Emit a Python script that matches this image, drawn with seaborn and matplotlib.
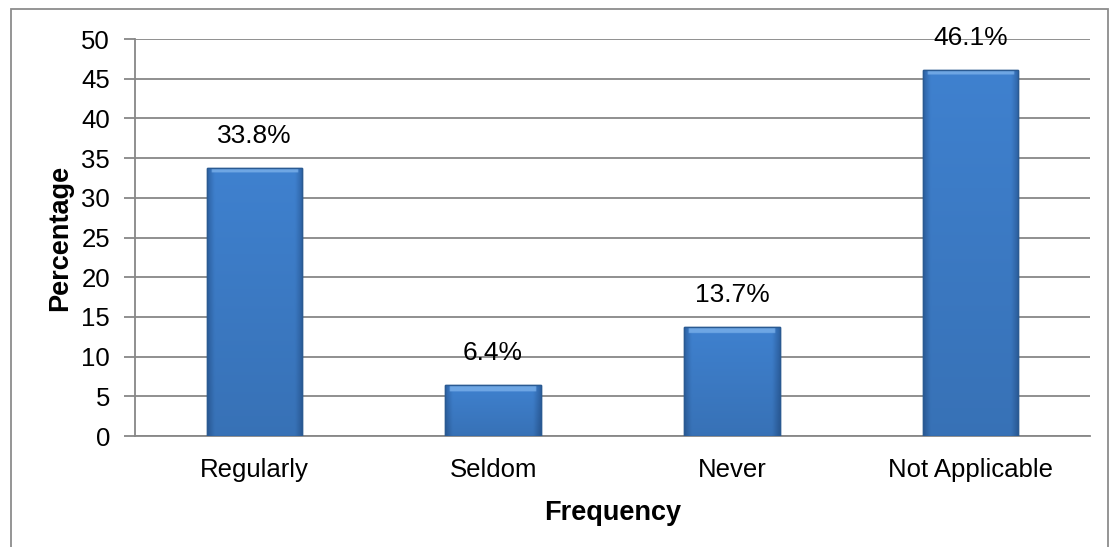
import matplotlib
matplotlib.use("Agg")
import matplotlib.pyplot as plt
import seaborn as sns
import pandas as pd
import numpy as np
from matplotlib.patches import Rectangle
from matplotlib.colors import to_rgb

categories = ["Regularly", "Seldom", "Never", "Not Applicable"]
percentages = [33.8, 6.4, 13.7, 46.1]
y_ticks = [0, 5, 10, 15, 20, 25, 30, 35, 40, 45, 50]

sns.set_theme(style="white")
plt.rcParams["font.family"] = ["Liberation Sans", "DejaVu Sans"]
plt.rcParams["text.color"] = "black"
plt.rcParams["xtick.color"] = "black"
plt.rcParams["ytick.color"] = "black"
plt.rcParams["axes.labelcolor"] = "black"

df = pd.DataFrame({"Frequency": categories, "Percentage": percentages})

fig = plt.figure(figsize=(11.10, 5.47), dpi=100)
ax = fig.add_axes([0.1216, 0.2029, 0.8604, 0.7258])

# outer chart frame
fig.patches.append(Rectangle((0.0095, -0.01), 0.989, 0.994, transform=fig.transFigure,
                             fill=False, edgecolor="#8c8c8c", linewidth=1.3))

sns.barplot(data=df, x="Frequency", y="Percentage", ax=ax, color="#3b7bc8",
            width=0.40, edgecolor="#2a5a92", linewidth=1.0, saturation=1, zorder=3)

# bevelled gradient fill clipped to each bar
edge_c = np.array(to_rgb("#2f65a8"))
mid_c = np.array(to_rgb("#3f81cf"))
top_c = np.array(to_rgb("#6ea6e4"))
nx, ny = 60, 200
xs = np.linspace(-1, 1, nx)
for bar in list(ax.patches):
    x0, w, h = bar.get_x(), bar.get_width(), bar.get_height()
    prof = 1 - np.clip((np.abs(xs) - 0.85) / 0.15, 0, 1)
    img = edge_c[None, :] + (mid_c - edge_c)[None, :] * prof[:, None]
    img = np.repeat(img[None, :, :], ny, axis=0)
    # darken slightly toward the bottom
    shade = np.linspace(0.88, 1.0, ny)[:, None, None]
    img = img * shade
    # light bevel band along the top
    bevel_px = max(2, int(ny * min(0.9, 0.9 * 0.9 / h)))
    img[-bevel_px:, 3:-3, :] = top_c
    im = ax.imshow(img, extent=(x0, x0 + w, 0, h), origin="lower", aspect="auto",
                   zorder=3.2, interpolation="bilinear")
    im.set_clip_path(bar)
    ax.add_patch(Rectangle((x0, 0), w, h, fill=False, edgecolor="#2a5a92",
                           linewidth=1.0, zorder=3.4))

for i, v in enumerate(percentages):
    ax.text(i, v + 4.0, f"{v}%", ha="center", va="center", fontsize=19, color="black")

ax.set_ylim(0, 50)
ax.set_yticks(y_ticks)
ax.set_xlim(-0.5, 3.5)
ax.yaxis.grid(True, color="#878787", linewidth=1.3, zorder=0)
ax.set_axisbelow(True)
for side in ["top", "right"]:
    ax.spines[side].set_visible(False)
for side in ["left", "bottom"]:
    ax.spines[side].set_color("#878787")
    ax.spines[side].set_linewidth(1.3)

ax.tick_params(axis="y", which="both", left=True, length=8, width=1.3, color="#878787",
               labelsize=18.5, pad=10)
ax.tick_params(axis="x", bottom=False, labelsize=18.5, pad=10)
ax.set_xlabel("Frequency", fontsize=19.5, fontweight="bold", labelpad=13)
ax.set_ylabel("Percentage", fontsize=19.5, fontweight="bold", labelpad=6)

fig.savefig("out.png", dpi=100)
